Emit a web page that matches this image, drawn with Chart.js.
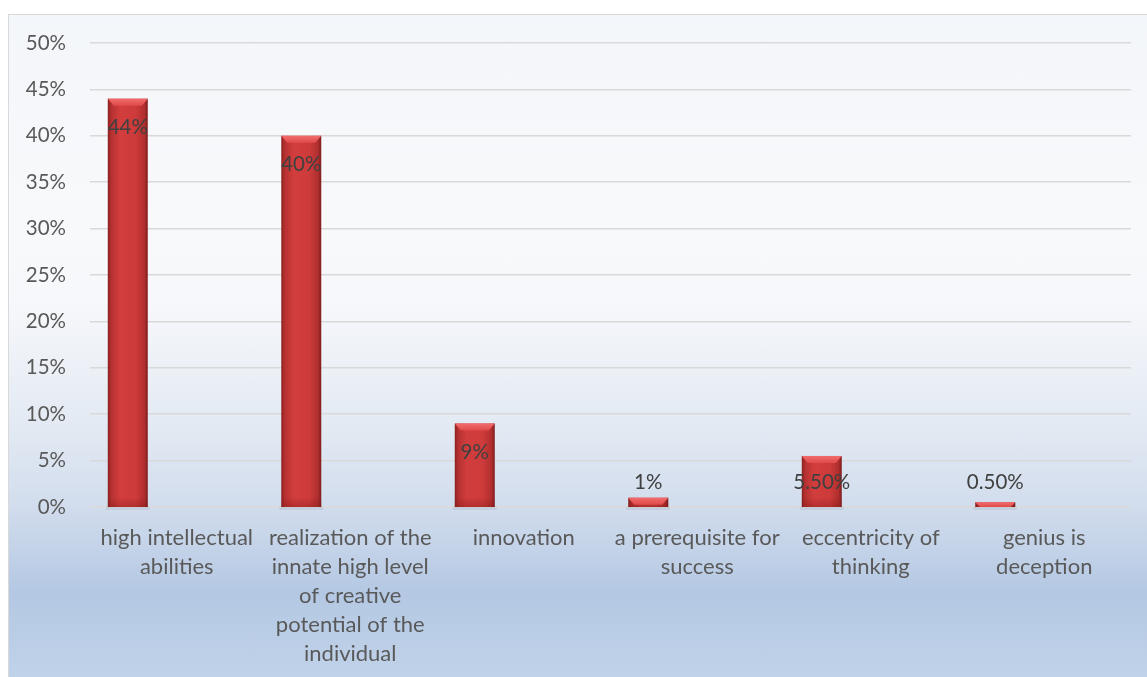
<!DOCTYPE html>
<html>
<head>
<meta charset="utf-8">
<script src="https://cdn.jsdelivr.net/npm/chart.js@4"></script>
<style>
	body { margin: 0; background: #fff; }
	#box {
		position: absolute; left: 8px; top: 14px; width: 1150px; height: 680px;
		border: 1px solid #d9d9d9;
		background: linear-gradient(to bottom, #f3f6fa 0%, #f8f9fb 30%, #f7f8fb 42%, #e3eaf3 60%, #d2dded 72%, #b4c8e3 85%, #bccfe7 93%, #c2d4ea 100%);
	}
</style>
</head>
<body>
<div id="box"><canvas id="chart"></canvas></div>
<script>
// Chart data
var categories = [
	["high intellectual", "abilities"],
	["realization of the", "innate high level", "of creative", "potential of the", "individual"],
	"innovation",
	["a prerequisite for", "success"],
	["eccentricity of", "thinking"],
	["genius is", "deception"]
];
var shares = [44, 40, 9, 1, 5.5, 0.5];
var emptySeries = [null, null, null, null, null, null];
var yTicks = { min: 0, max: 50, step: 5 };

function fmtPct(v) {
	return Number.isInteger(v) ? v + "%" : v.toFixed(2) + "%";
}

// Red bars with a gradient and bevelled top, drawn over the (transparent) library bars
var barLook = {
	id: "barLook",
	afterDatasetsDraw: function(chart) {
		var ctx = chart.ctx;
		var meta = chart.getDatasetMeta(0);
		var base = chart.scales.y.getPixelForValue(0);
		meta.data.forEach(function(el) {
			var l = el.x - el.width / 2, r = el.x + el.width / 2;
			var top = el.y, h = base - el.y;
			ctx.save();
			// faint shadow at the foot
			ctx.fillStyle = "rgba(90,90,90,0.10)";
			ctx.fillRect(l - 2, base, el.width + 4, 3);
			var g = ctx.createLinearGradient(l, 0, r, 0);
			g.addColorStop(0, "#8a2020");
			g.addColorStop(0.08, "#b43030");
			g.addColorStop(0.3, "#d23d3d");
			g.addColorStop(0.7, "#ce3b3b");
			g.addColorStop(0.92, "#b02e2e");
			g.addColorStop(1, "#7e1c1c");
			ctx.fillStyle = g;
			ctx.fillRect(l, top, el.width, h);
			// darker foot
			var fg = ctx.createLinearGradient(0, base - 10, 0, base);
			fg.addColorStop(0, "rgba(120,20,20,0)");
			fg.addColorStop(1, "rgba(120,20,20,0.35)");
			ctx.fillStyle = fg;
			ctx.fillRect(l, Math.max(top, base - 10), el.width, Math.min(10, h));
			// bevel
			var bh = Math.min(7, h);
			var d = Math.min(6, bh);
			var bg = ctx.createLinearGradient(0, top, 0, top + bh);
			bg.addColorStop(0, "#f26c6c");
			bg.addColorStop(1, "#e04a4a");
			ctx.fillStyle = bg;
			ctx.beginPath();
			ctx.moveTo(l, top);
			ctx.lineTo(r, top);
			ctx.lineTo(r - d, top + bh);
			ctx.lineTo(l + d, top + bh);
			ctx.closePath();
			ctx.fill();
			ctx.restore();
		});
	}
};

// Value labels
var valueLabels = {
	id: "valueLabels",
	afterDatasetsDraw: function(chart) {
		var ctx = chart.ctx;
		var meta = chart.getDatasetMeta(0);
		var base = chart.scales.y.getPixelForValue(0);
		ctx.save();
		ctx.font = "20.5px Lato";
		ctx.fillStyle = "#404040";
		ctx.textAlign = "center";
		ctx.textBaseline = "middle";
		meta.data.forEach(function(el, i) {
			var v = shares[i];
			var y = v >= 9 ? el.y + 29 : base - 25;
			ctx.fillText(fmtPct(v), el.x, y);
		});
		ctx.restore();
	}
};

window.addEventListener("load", function() {
	var ctx = document.getElementById("chart");
	var chart = new Chart(ctx, {
		type: "bar",
		data: {
			labels: categories,
			datasets: [
				{ data: shares, backgroundColor: "rgba(0,0,0,0)", borderWidth: 0 },
				{ data: emptySeries },
				{ data: emptySeries }
			]
		},
		options: {
			responsive: true,
			maintainAspectRatio: false,
			animation: false,
			categoryPercentage: 0.847,
			barPercentage: 0.816,
			layout: { padding: { left: 0, right: 28, top: 28, bottom: 0 } },
			plugins: {
				legend: { display: false },
				tooltip: { enabled: false }
			},
			scales: {
				x: {
					grid: { display: false, drawTicks: false },
					border: { display: false },
					ticks: {
						color: "#595959",
						font: { family: "Lato", size: 22, lineHeight: 1.32 },
						padding: 16,
						maxRotation: 0,
						autoSkip: false
					},
					afterFit: function(s) {
						s.height = 188;
						s.paddingTop = 0; s.paddingBottom = 0;
						s.paddingLeft = 0; s.paddingRight = 0;
					}
				},
				y: {
					min: yTicks.min,
					max: yTicks.max,
					grid: { color: "#d9d9d9", lineWidth: 1.5, drawTicks: false },
					border: { display: false },
					ticks: {
						stepSize: yTicks.step,
						color: "#595959",
						font: { family: "Lato", size: 20.5 },
						padding: 24,
						callback: function(v) { return v + "%"; }
					},
					afterFit: function(s) {
						s.width = 81;
						s.paddingTop = 0; s.paddingBottom = 0;
					}
				}
			}
		},
		plugins: [barLook, valueLabels]
	});
});
</script>
</body>
</html>
